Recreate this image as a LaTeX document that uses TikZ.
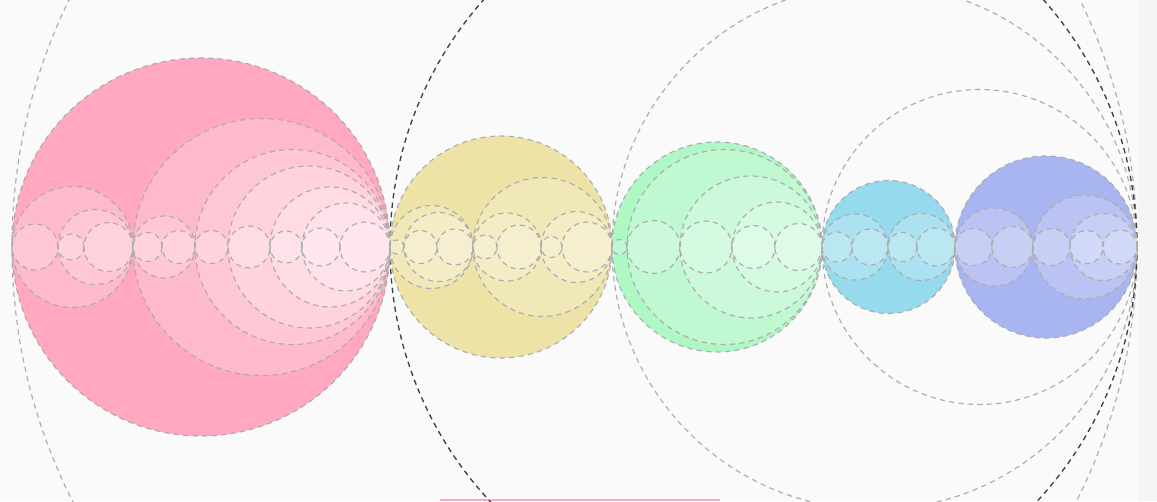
\documentclass[tikz,border=0pt]{standalone}
\usepackage{tikz}
\definecolor{bgc}{RGB}{250,250,250}
\definecolor{stripc}{RGB}{245,245,245}
\definecolor{rimgray}{RGB}{172,172,172}
\definecolor{rimdark}{RGB}{60,60,60}
\definecolor{pinkc}{RGB}{255,168,192}
\definecolor{yellowc}{RGB}{237,227,166}
\definecolor{greenc}{RGB}{176,247,198}
\definecolor{cyanc}{RGB}{150,218,238}
\definecolor{bluec}{RGB}{169,181,240}
\tikzset{
  rim/.style={draw=rimgray, line width=0.65pt, dash pattern=on 3pt off 2.4pt},
  base/.style={rim},
  inner/.style={rim, fill=white, fill opacity=0.2},
  outer/.style={rim},
  outerdark/.style={draw=rimdark, line width=0.75pt, dash pattern=on 3pt off 2.4pt}
}
\begin{document}
\begin{tikzpicture}[x=0.02cm, y=0.02cm]
  \useasboundingbox (0,0) rectangle (1157,501);
  \clip (0,0) rectangle (1157,501);
  % Background
  \fill[bgc] (0,0) rectangle (1157,501);
  \fill[stripc] (1138,0) rectangle (1157,501);
  \fill[pinkc] (440,0) rectangle (720,2);
  % Outer rings, all touching on the right
  \foreach \a in {12,612,822}
    \draw[outer] ({(\a+1137)/2},254) circle[radius={(1137-\a)/2}];
  \draw[outerdark] ({(390+1137)/2},254) circle[radius={(1137-390)/2}];
  % Coloured bubbles
  \foreach \a/\b/\c in {12/390/pinkc, 390/612/yellowc, 612/822/greenc,
      822/955/cyanc, 955/1137/bluec}
    \path[base, fill=\c] ({(\a+\b)/2},254) circle[radius={(\b-\a)/2}];
  % Nested bubbles
  \foreach \a/\b in {
      12/133, 12/58, 58/133, 58/84, 84/133,
      133/390, 133/195, 133/162, 162/195, 195/390, 195/228, 228/390,
      228/270, 270/390, 270/302, 302/390, 302/340, 340/390,
      390/473, 390/404, 404/473, 404/437, 437/473,
      473/612, 473/541, 473/497, 497/541, 541/612, 541/562, 562/612,
      612/627, 627/822, 627/680, 680/822, 680/732, 732/822, 732/775, 775/822,
      822/888, 822/852, 852/888, 888/955, 888/917, 917/955,
      955/1033, 955/992, 992/1033, 1033/1137, 1033/1070, 1070/1137,
      1070/1103, 1103/1137}
    \path[inner] ({(\a+\b)/2},254) circle[radius={(\b-\a)/2}];
\end{tikzpicture}
\end{document}
